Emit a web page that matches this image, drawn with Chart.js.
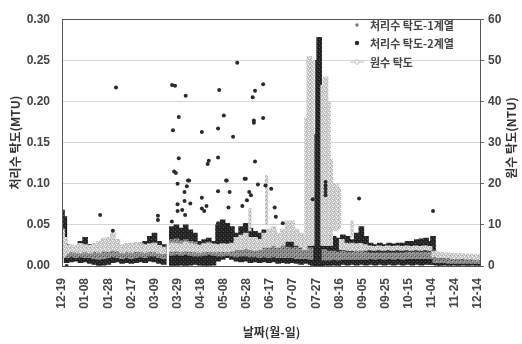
<!DOCTYPE html>
<html><head><meta charset="utf-8">
<script src="https://cdn.jsdelivr.net/npm/chart.js@4.4.0/dist/chart.umd.min.js"></script>
<style>html,body{margin:0;padding:0;background:#fff}#wrap{width:522px;height:344px}</style>
</head><body><div id="wrap"><canvas id="c" width="522" height="344"></canvas></div>
<script>
// x tick labels (every 20 days from 12-19)
const dateLabels = ['12-19','01-08','01-28','02-17','03-09','03-29','04-18','05-08','05-28','06-17','07-07','07-27','08-16','09-05','09-25','10-15','11-04','11-24','12-14'];

// 처리수 탁도-1계열 (MTU): [day, low, high] spread of readings
const s1Band = [[0,0.015,0.040],[2,0.014,0.035],[4,0.010,0.020],[8,0.011,0.021],[12,0.010,0.020],[16,0.011,0.022],[20,0.010,0.024],[24,0.010,0.021],[28,0.009,0.020],[32,0.008,0.021],[36,0.009,0.022],[40,0.010,0.023],[44,0.011,0.024],[48,0.010,0.022],[52,0.009,0.020],[56,0.010,0.022],[60,0.009,0.021],[64,0.010,0.023],[68,0.011,0.024],[72,0.010,0.025],[76,0.012,0.027],[80,0.012,0.028],[84,0.010,0.024],[88,0.009,0.022],[95,0.013,0.032],[99,0.014,0.033],[103,0.013,0.031],[107,0.014,0.032],[111,0.013,0.030],[115,0.012,0.029],[119,0.012,0.026],[123,0.013,0.028],[127,0.014,0.029],[131,0.013,0.027],[135,0.012,0.026],[139,0.012,0.027],[143,0.013,0.026],[147,0.012,0.025],[151,0.011,0.026],[155,0.012,0.027],[159,0.012,0.028],[163,0.011,0.026],[167,0.011,0.025],[171,0.010,0.025],[175,0.011,0.026],[179,0.010,0.024],[183,0.011,0.025],[187,0.010,0.024],[191,0.010,0.024],[195,0.010,0.023],[199,0.010,0.022],[203,0.009,0.023],[207,0.009,0.021],[211,0.009,0.022],[215,0.008,0.022],[227,0.007,0.020],[231,0.007,0.018],[235,0.008,0.018],[239,0.007,0.017],[243,0.008,0.018],[247,0.008,0.017],[251,0.008,0.017],[255,0.008,0.018],[259,0.008,0.018],[263,0.008,0.017],[267,0.009,0.016],[271,0.008,0.016],[275,0.009,0.016],[279,0.008,0.016],[283,0.009,0.016],[287,0.008,0.016],[291,0.009,0.016],[295,0.008,0.016],[299,0.009,0.017],[303,0.009,0.017],[307,0.009,0.017],[311,0.009,0.017],[315,0.009,0.017],[319,0.009,0.017],[323,0.004,0.010],[327,0.004,0.009],[331,0.004,0.009],[335,0.003,0.008],[339,0.003,0.008],[343,0.003,0.008],[347,0.003,0.007],[351,0.003,0.007],[355,0.003,0.007],[359,0.003,0.007],[362,0.003,0.007]];

// 처리수 탁도-2계열 (MTU): [day, low, high] spread of readings
const s2Band = [[0,0.018,0.068],[2,0.015,0.060],[4,0.004,0.026],[8,0.005,0.024],[12,0.006,0.022],[16,0.004,0.030],[20,0.005,0.035],[24,0.003,0.026],[28,0.002,0.018],[32,0.000,0.022],[36,0.001,0.020],[40,0.002,0.024],[44,0.004,0.026],[48,0.005,0.022],[52,0.003,0.020],[56,0.004,0.024],[60,0.003,0.022],[64,0.004,0.026],[68,0.005,0.028],[72,0.004,0.030],[76,0.006,0.036],[80,0.005,0.040],[84,0.003,0.030],[88,0.002,0.026],[95,0.000,0.048],[99,0.000,0.050],[103,0.001,0.046],[107,0.000,0.050],[111,0.001,0.044],[115,0.002,0.040],[119,0.001,0.030],[123,0.000,0.032],[127,0.000,0.034],[131,0.001,0.030],[135,0.006,0.050],[139,0.008,0.056],[143,0.010,0.052],[147,0.008,0.048],[151,0.006,0.040],[155,0.005,0.048],[159,0.006,0.052],[163,0.004,0.046],[167,0.005,0.042],[171,0.004,0.040],[175,0.005,0.044],[179,0.004,0.038],[183,0.005,0.042],[187,0.003,0.036],[191,0.004,0.040],[195,0.003,0.034],[199,0.004,0.032],[203,0.003,0.036],[207,0.002,0.030],[211,0.003,0.032],[215,0.002,0.040],[217,0.000,0.070],[219,0.000,0.110],[220.5,0.000,0.160],[221.5,0.000,0.250],[222.5,0.000,0.278],[223.5,0.000,0.200],[225,0.000,0.080],[227,0.001,0.040],[231,0.000,0.032],[235,0.001,0.036],[239,0.000,0.034],[243,0.002,0.038],[247,0.001,0.036],[251,0.002,0.032],[255,0.001,0.040],[259,0.002,0.048],[263,0.001,0.036],[267,0.002,0.028],[271,0.001,0.026],[275,0.002,0.028],[279,0.001,0.026],[283,0.002,0.028],[287,0.001,0.027],[291,0.002,0.028],[295,0.001,0.028],[299,0.002,0.030],[303,0.001,0.030],[307,0.002,0.032],[311,0.001,0.033],[315,0.002,0.034],[319,0.002,0.030],[321,0.002,0.036],[324,0.001,0.014],[327,0.000,0.012],[331,0.001,0.012],[335,0.000,0.011],[339,0.001,0.010],[343,0.000,0.010],[347,0.001,0.009],[351,0.000,0.009],[355,0.001,0.010],[359,0.000,0.009],[362,0.001,0.010]];

// 처리수 탁도-2계열 isolated readings (MTU): [day, value]
const s2Points = [[4,0.000],[33,0.062],[44,0.043],[46.7,0.217],[83,0.061],[83,0.056],[95,0.054],[95.2,0.220],[97.8,0.219],[96,0.165],[97,0.115],[98.5,0.113],[100,0.100],[100,0.075],[100,0.067],[101,0.181],[101,0.131],[104,0.068],[106,0.079],[106,0.090],[106.5,0.062],[107,0.207],[108,0.097],[109,0.104],[110,0.104],[111,0.076],[121,0.163],[121,0.083],[121,0.070],[123,0.067],[125,0.073],[126,0.124],[127,0.128],[135,0.167],[135,0.132],[135,0.091],[135,0.052],[136,0.214],[140,0.183],[142,0.104],[142.5,0.104],[144,0.071],[145,0.090],[148,0.157],[151.6,0.247],[156,0.073],[158,0.106],[159,0.106],[160,0.080],[162,0.090],[163.5,0.086],[165,0.205],[166,0.177],[166,0.174],[167,0.213],[167,0.127],[169.5,0.099],[174,0.221],[174,0.180],[176,0.098],[181,0.094],[184,0.071],[185,0.060],[191,0.052],[217,0.081],[228,0.102],[228,0.098],[228,0.094],[228,0.090],[228,0.086],[257,0.082],[321,0.067]];

// 원수 탁도 (NTU): [day, low, high] spread of readings
const rawBand = [[0,2.0,9.0],[2,2.5,7.0],[4,3.2,5.0],[8,3.4,5.2],[12,3.3,5.0],[16,3.2,5.5],[20,3.4,5.2],[24,3.2,5.0],[28,3.5,5.5],[32,3.3,6.0],[36,3.6,6.8],[40,3.5,7.0],[44,3.8,8.0],[48,3.6,6.5],[52,3.2,5.2],[56,3.4,5.5],[60,3.3,5.6],[64,3.5,5.8],[68,3.4,5.5],[72,3.3,5.2],[76,3.5,5.4],[80,3.4,5.6],[84,3.2,5.0],[88,3.0,4.6],[95,3.5,5.6],[99,3.6,5.5],[103,3.4,5.4],[107,3.6,5.8],[111,3.5,5.5],[115,3.4,5.2],[119,3.3,5.0],[123,3.4,5.4],[127,3.5,5.5],[131,3.4,5.3],[135,3.4,5.2],[139,3.5,5.4],[143,3.4,5.3],[147,3.6,5.6],[151,4.0,7.0],[155,4.0,7.5],[159,4.2,8.0],[163,4.0,7.0],[167,3.8,7.0],[171,4.0,6.5],[175,4.5,8.0],[179,4.5,9.0],[183,5.0,9.5],[187,4.5,8.0],[191,5.0,9.0],[195,6.0,11.0],[199,6.0,11.0],[203,5.0,9.0],[207,4.5,8.0],[210,4.0,7.0],[212,5.0,36.0],[214,5.0,51.0],[216,5.0,50.0],[226,5.0,44.0],[228,5.0,46.0],[230,5.0,40.0],[232,5.0,26.0],[235,9.0,20.0],[237,8.5,20.0],[239,9.0,19.0],[242,4.0,6.5],[245,3.9,5.6],[248,3.8,5.4],[251,3.8,5.6],[254,3.8,5.4],[258,3.8,5.5],[262,3.8,5.2],[266,3.9,4.9],[270,3.8,4.8],[274,3.9,4.9],[278,3.8,4.8],[282,3.9,4.9],[286,3.8,4.8],[290,3.9,4.9],[294,3.8,4.8],[298,3.9,4.9],[302,3.8,4.8],[306,3.9,4.9],[310,3.8,4.8],[314,3.9,4.9],[318,3.8,4.8],[322,2.2,3.6],[326,2.0,3.4],[330,2.0,3.3],[334,1.9,3.2],[338,1.8,3.1],[342,1.8,3.0],[346,1.7,3.0],[350,1.6,2.9],[354,1.6,2.9],[358,1.5,2.8],[362,1.5,2.8]];

// 원수 탁도 short single-day episodes (NTU): [day, low, high]
const rawEpisodes = [[162.5,8.5,14.0],[177,10.0,22.0],[251,7.0,11.0]];

const FONT = "'Liberation Sans', 'Noto Sans CJK KR', sans-serif";
const KFONT = "'Noto Sans CJK KR', sans-serif";

function makePattern(base, dots) {
  const c = document.createElement('canvas');
  c.width = 4; c.height = 4;
  const g = c.getContext('2d');
  g.fillStyle = base; g.fillRect(0, 0, 4, 4);
  dots.forEach(([x, y, col]) => { g.fillStyle = col; g.fillRect(x, y, 1, 1); });
  return g.createPattern(c, 'repeat');
}
const P_RAW = makePattern('#c4c4c4', [[0,0,'#ffffff'],[2,1,'#eeeeee'],[1,2,'#ffffff'],[3,3,'#e8e8e8'],[2,3,'#a8a8a8']]);
const P_S1 = makePattern('#8a8a8a', [[0,1,'#b4b4b4'],[2,3,'#b0b0b0'],[3,0,'#4a4a4a'],[1,3,'#666666']]);
const P_S2 = makePattern('#242424', [[1,1,'#4e4e4e'],[3,3,'#555555'],[2,0,'#101010']]);

const toRange = arr => arr.map(([d, lo, hi]) => ({x: d, y: [lo, hi]}));
const toPts = arr => arr.map(([d, v]) => ({x: d, y: v}));

const frameAndLegend = {
  id: 'frameAndLegend',
  afterDatasetsDraw(chart) {
    const {ctx, chartArea: a} = chart;
    ctx.save();
    ctx.strokeStyle = '#555';
    ctx.lineWidth = 1;
    ctx.strokeRect(Math.round(a.left) + 0.5, Math.round(a.top) + 0.5, Math.round(a.right - a.left) - 1, Math.round(a.bottom - a.top));
    ctx.restore();
  },
  afterDraw(chart) {
    const {ctx} = chart;
    ctx.save();
    ctx.font = 'bold 12px ' + KFONT;
    ctx.fillStyle = '#333';
    ctx.textAlign = 'center';
    ctx.textBaseline = 'middle';
    ctx.translate(511, 138);
    ctx.rotate(-Math.PI / 2);
    ctx.fillText(chart.options.plugins.frameAndLegend.rightTitle, 0, 0);
    ctx.restore();

    ctx.save();
    ctx.font = 'bold 11px ' + KFONT;
    ctx.textBaseline = 'middle';
    ctx.textAlign = 'left';
    const rows = [25, 43, 62];
    chart.data.datasets.forEach(ds => {
      if (ds.legendRow === undefined) return;
      const y = rows[ds.legendRow];
      const mx = 357;
      if (ds.legendRow === 2) {
        ctx.strokeStyle = '#bdbdbd';
        ctx.lineWidth = 1;
        ctx.beginPath(); ctx.moveTo(350, y); ctx.lineTo(364, y); ctx.stroke();
        ctx.fillStyle = '#fff';
        ctx.beginPath(); ctx.arc(mx, y, 2.2, 0, Math.PI * 2); ctx.fill(); ctx.stroke();
      } else {
        ctx.fillStyle = ds.legendRow === 0 ? '#777' : '#2a2a2a';
        ctx.beginPath(); ctx.arc(mx, y, ds.legendRow === 0 ? 1.7 : 2.2, 0, Math.PI * 2); ctx.fill();
      }
      ctx.fillStyle = '#444';
      ctx.fillText(ds.label, 370, y + 0.5);
    });
    ctx.restore();
  }
};

const barCommon = {type: 'bar', grouped: false, barThickness: 5, borderWidth: 0, borderSkipped: false};
const tickFont = {family: FONT, size: 12, weight: 'bold'};

new Chart(document.getElementById('c'), {
  type: 'scatter',
  data: {
    datasets: [
      Object.assign({}, {type: 'scatter', label: '처리수 탁도-2계열', legendRow: 1, data: toPts(s2Points), yAxisID: 'y',
        pointRadius: 2, pointBackgroundColor: '#2a2a2a', pointBorderWidth: 0, order: 0}),
      Object.assign({}, barCommon, {label: '원수 탁도', legendRow: 2, data: toRange(rawBand), yAxisID: 'y1', backgroundColor: P_RAW, order: 1}),
      Object.assign({}, barCommon, {label: '원수 탁도 (단기)', data: toRange(rawEpisodes), yAxisID: 'y1', backgroundColor: P_RAW, barThickness: 2.5, order: 1}),
      Object.assign({}, barCommon, {label: '처리수 탁도-1계열', legendRow: 0, data: toRange(s1Band), yAxisID: 'y', backgroundColor: P_S1, order: 2}),
      Object.assign({}, barCommon, {label: '처리수 탁도-2계열 범위', data: toRange(s2Band), yAxisID: 'y', backgroundColor: P_S2, order: 3})
    ]
  },
  options: {
    responsive: false,
    animation: false,
    devicePixelRatio: 1,
    layout: {padding: {top: 10, left: 0, right: 0, bottom: 0}},
    plugins: {
      legend: {display: false},
      tooltip: {enabled: false},
      frameAndLegend: {rightTitle: '원수 탁도(NTU)'}
    },
    scales: {
      x: {
        type: 'linear', min: 0, max: 362.5, offset: false,
        grid: {display: false, drawTicks: true, tickLength: 8},
        border: {display: false},
        ticks: {
          stepSize: 20, autoSkip: false, includeBounds: false, minRotation: 90, maxRotation: 90, padding: 4,
          color: '#444', font: tickFont,
          callback: v => (Math.abs(v / 20 - Math.round(v / 20)) < 1e-6 ? dateLabels[Math.round(v / 20)] : '')
        },
        title: {display: true, text: '날짜(월-일)', color: '#333', font: {family: KFONT, size: 12, weight: 'bold'}, padding: {top: 0, bottom: 4}},
        afterFit: s => { s.height = 78; }
      },
      y: {
        type: 'linear', position: 'left', min: 0, max: 0.3,
        grid: {color: '#d6d6d6', lineWidth: 1, drawTicks: false},
        border: {display: false},
        ticks: {stepSize: 0.05, padding: 12, color: '#444', font: tickFont,
          callback: v => Number(v).toFixed(2)},
        title: {display: true, text: '처리수 탁도(MTU)', color: '#333', font: {family: KFONT, size: 12, weight: 'bold'}, padding: {top: 8, bottom: 0}},
        afterFit: s => { s.width = 62; }
      },
      y1: {
        type: 'linear', position: 'right', min: 0, max: 60,
        grid: {display: true, drawOnChartArea: false, drawTicks: true, tickLength: 3, color: '#666'},
        border: {display: false},
        ticks: {stepSize: 10, padding: 4, color: '#444', font: tickFont},
        afterFit: s => { s.width = 41; }
      }
    }
  },
  plugins: [frameAndLegend]
});
</script>
</body></html>
